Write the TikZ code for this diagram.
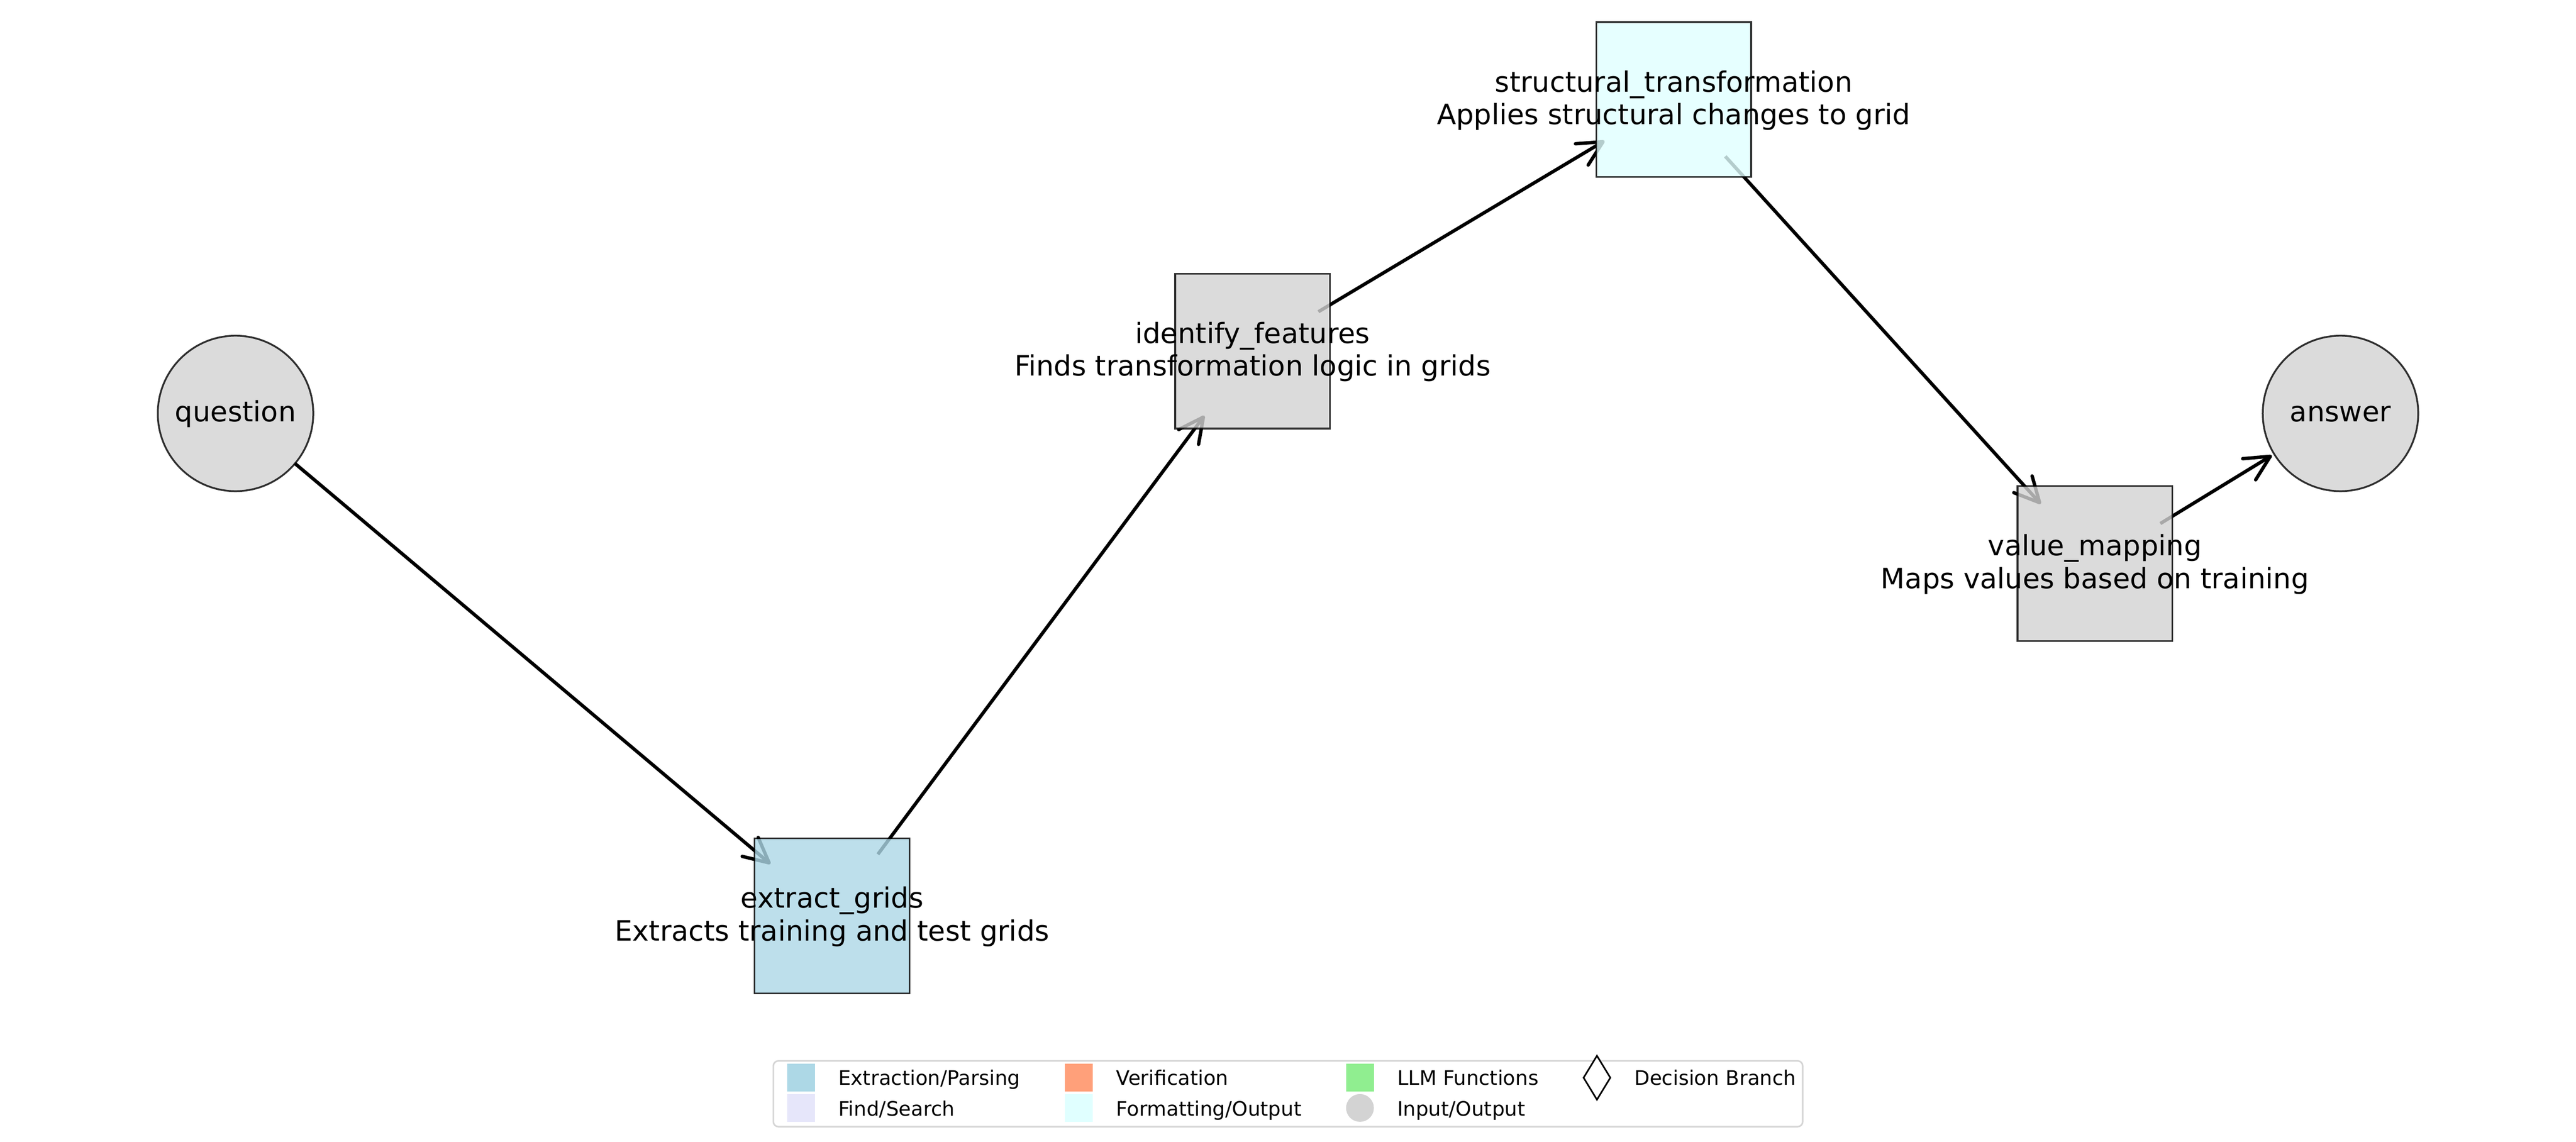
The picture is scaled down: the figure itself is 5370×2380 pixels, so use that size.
\documentclass[tikz,border=0pt]{standalone}
\usepackage{fontspec}
\setmainfont{DejaVu Sans}
\usetikzlibrary{arrows.meta,shapes.geometric}
\pgfdeclarelayer{bg}
\pgfsetlayers{bg,main}
\definecolor{lblue}{HTML}{ADD8E6}
\definecolor{lgray}{HTML}{D3D3D3}
\definecolor{lcyan}{HTML}{E0FFFF}
\definecolor{lavend}{HTML}{E6E6FA}
\definecolor{lsalmon}{HTML}{FFA07A}
\definecolor{lgreen}{HTML}{90EE90}
\definecolor{framegray}{HTML}{D6D6D6}
\begin{document}
\begin{tikzpicture}[x=0.24pt, y=-0.24pt,
  boxnode/.style={rectangle, minimum size=77.5pt, inner sep=0pt, draw=black, draw opacity=0.8, fill opacity=0.8, line width=0.9pt},
  ionode/.style={circle, minimum size=77.8pt, inner sep=0pt, draw=black, draw opacity=0.8, fill=lgray, fill opacity=0.8, line width=0.9pt},
  lbl/.style={anchor=base, align=center, inner sep=0pt, font=\fontsize{14}{16.4}\selectfont},
  flow/.style={line width=1.7pt, shorten <=38.4pt, shorten >=40.3pt, -{Straight Barb[length=12.4pt, width=12.4pt, round]}},
  legtxt/.style={anchor=base west, inner sep=0pt, font=\fontsize{10}{12}\selectfont},
  legsq/.style={rectangle, minimum size=13.9pt, inner sep=0pt}
]
\useasboundingbox (0,0) rectangle (5370,2380);

% nodes
\node[ionode] (q) at (491,862) {};
\node[boxnode, fill=lblue] (eg) at (1734.5,1909.5) {};
\node[boxnode, fill=lgray] (idf) at (2611,732) {};
\node[boxnode, fill=lcyan] (st) at (3489,207.5) {};
\node[boxnode, fill=lgray] (vm) at (4367,1175) {};
\node[ionode] (ans) at (4879,862) {};

% labels (anchor = baseline of the last line)
\node[lbl] (qt) at (491,879) {question};
\node[lbl] (anst) at (4879,879) {answer};
\node[lbl] (egt) at (1734.5,1961.5) {extract\_grids\\Extracts training and test grids};
\node[lbl] (idft) at (2611,784) {identify\_features\\Finds transformation logic in grids};
\node[lbl] (stt) at (3489,259.5) {structural\_transformation\\Applies structural changes to grid};
\node[lbl] (vmt) at (4367,1227) {value\_mapping\\Maps values based on training};

% background and connectors (under the nodes)
\begin{pgfonlayer}{bg}
\fill[white] (0,0) rectangle (5370,2380);
\draw[flow] (q.center) -- (eg.center);
\draw[flow] (eg.center) -- (idf.center);
\draw[flow] (idf.center) -- (st.center);
\draw[flow] (st.center) -- (vm.center);
\draw[flow] (vm.center) -- (ans.center);
\end{pgfonlayer}

% legend
\node[draw=framegray, fill=white, line width=0.8pt, rounded corners=2.5pt, minimum width=515pt, minimum height=32.9pt, inner sep=0pt] (legframe) at (2685,2280.5) {};
\node[legsq, fill=lblue] (m1) at (1670,2247) {};
\node[legsq, fill=lavend] (m2) at (1670,2310) {};
\node[legsq, fill=lsalmon] (m3) at (2249,2247) {};
\node[legsq, fill=lcyan] (m4) at (2249,2310) {};
\node[legsq, fill=lgreen] (m5) at (2835,2247) {};
\node[circle, minimum size=13.9pt, inner sep=0pt, fill=lgray] (m6) at (2835,2310) {};
\node[diamond, minimum width=13.7pt, minimum height=22.3pt, inner sep=0pt, draw=black, fill=white, line width=0.8pt] (m7) at (3329,2247) {};
\node[legtxt] (t1) at (1747,2262.7) {Extraction/Parsing};
\node[legtxt] (t2) at (1747,2326.7) {Find/Search};
\node[legtxt] (t3) at (2326,2262.7) {Verification};
\node[legtxt] (t4) at (2326,2326.7) {Formatting/Output};
\node[legtxt] (t5) at (2912,2262.7) {LLM Functions};
\node[legtxt] (t6) at (2912,2326.7) {Input/Output};
\node[legtxt] (t7) at (3406,2262.7) {Decision Branch};
\end{tikzpicture}
\end{document}
